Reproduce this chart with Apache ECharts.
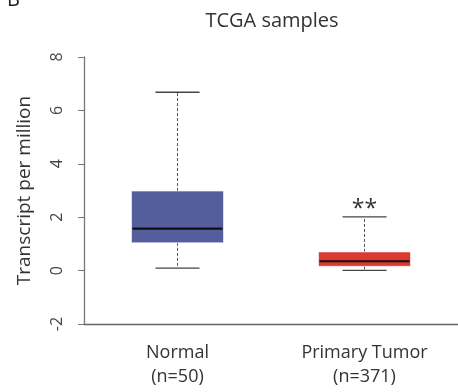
<!DOCTYPE html>
<html>
<head>
<meta charset="utf-8">
<script src="https://cdn.jsdelivr.net/npm/echarts@6/dist/echarts.min.js"></script>
<style>
  html, body { margin: 0; padding: 0; background: #fff; }
  #main { width: 458px; height: 392px; }
</style>
</head>
<body>
<div id="main"></div>
<script>
// box stats: [low, q1, median, q3, high]
var categories = ['Normal\n(n=50)', 'Primary Tumor\n(n=371)'];
var boxStats = [
  [0.09, 1.04, 1.57, 2.98, 6.68],
  [0.01, 0.16, 0.35, 0.70, 2.01]
];
var boxColors = ['#545e9c', '#db3b2e'];
var sigLabels = ['', '**'];
var yTicks = { min: -2, max: 8, interval: 2 };

var FONT = '"Open Sans", sans-serif';

var chart1 = echarts.init(document.getElementById('main'));

function renderBox(params, api) {
  var i = api.value(0);
  var lo = api.coord([i, api.value(1)]);
  var q1 = api.coord([i, api.value(2)]);
  var med = api.coord([i, api.value(3)]);
  var q3 = api.coord([i, api.value(4)]);
  var hi = api.coord([i, api.value(5)]);
  var cx = lo[0];
  var halfBox = 46, halfCap = 22;
  var children = [
    // whiskers
    { type: 'line', shape: { x1: cx, y1: q3[1], x2: cx, y2: hi[1] },
      style: { stroke: '#555', lineWidth: 1, lineDash: [3, 2] } },
    { type: 'line', shape: { x1: cx, y1: q1[1], x2: cx, y2: lo[1] },
      style: { stroke: '#555', lineWidth: 1, lineDash: [3, 2] } },
    { type: 'line', shape: { x1: cx - halfCap, y1: hi[1], x2: cx + halfCap, y2: hi[1] },
      style: { stroke: '#444', lineWidth: 1.3 } },
    { type: 'line', shape: { x1: cx - halfCap, y1: lo[1], x2: cx + halfCap, y2: lo[1] },
      style: { stroke: '#444', lineWidth: 1.3 } },
    // box
    { type: 'rect', shape: { x: cx - halfBox, y: q3[1], width: halfBox * 2, height: q1[1] - q3[1] },
      style: { fill: boxColors[i], stroke: 'rgba(255,255,255,0.6)', lineWidth: 1 } },
    // median
    { type: 'line', shape: { x1: cx - halfBox + 1, y1: med[1], x2: cx + halfBox - 1, y2: med[1] },
      style: { stroke: '#111', lineWidth: 2.2 } }
  ];
  if (sigLabels[i]) {
    children.push({ type: 'text', x: cx, y: hi[1] + 4,
      style: { text: sigLabels[i], fill: '#333', font: '23px ' + FONT, align: 'center', verticalAlign: 'bottom' } });
  }
  return { type: 'group', children: children };
}

var option = {
  backgroundColor: '#fff',
  animation: false,
  title: {
    text: 'TCGA samples',
    left: 267,
    top: 6,
    textAlign: 'center',
    textStyle: { color: '#333', fontSize: 20, fontWeight: 'normal', fontFamily: FONT }
  },
  graphic: [
    { type: 'text', left: 7, top: -10,
      style: { text: 'B', fill: '#222', font: '20px ' + FONT } }
  ],
  grid: { left: 84, top: 57, width: 378, bottom: 68 },
  xAxis: {
    type: 'category',
    data: categories,
    axisLine: { show: true, onZero: false, lineStyle: { color: '#666', width: 1.3 } },
    axisTick: { show: false },
    axisLabel: { color: '#333', fontSize: 18, fontFamily: FONT, margin: 17, lineHeight: 24 },
    splitLine: { show: false }
  },
  yAxis: {
    type: 'value',
    min: yTicks.min,
    max: yTicks.max,
    interval: yTicks.interval,
    name: 'Transcript per million',
    nameLocation: 'middle',
    nameGap: 50,
    nameTextStyle: { color: '#333', fontSize: 19, fontFamily: FONT },
    axisLine: { show: true, lineStyle: { color: '#777', width: 1.3 } },
    axisTick: { show: true, length: 6, lineStyle: { color: '#777' } },
    axisLabel: { color: '#444', fontSize: 16, fontFamily: FONT, rotate: 90, margin: 19 },
    splitLine: { show: false }
  },
  series: [{
    type: 'custom',
    renderItem: renderBox,
    encode: { x: 0, y: [1, 2, 3, 4, 5] },
    data: boxStats.map(function (s, i) { return [i].concat(s); })
  }]
};

chart1.setOption(option);
</script>
</body>
</html>
